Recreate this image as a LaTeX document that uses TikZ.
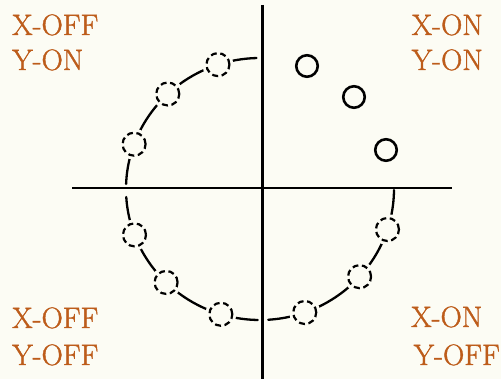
\documentclass[tikz,border=0pt]{standalone}
\usepackage{fontspec}
\newfontfamily\labfont[FakeBold=1.3]{Latin Modern Roman}
\definecolor{bg}{HTML}{FCFCF4}
\definecolor{lbl}{HTML}{BD5C1A}
\begin{document}
\begin{tikzpicture}[x=1pt,y=-1pt,
  axis/.style={line width=2.5pt, black},
  arcline/.style={line width=2.3pt, black, line cap=round},
  offdot/.style={circle, draw=black, fill=bg, line width=2.2pt, minimum size=23pt, inner sep=0pt,
    dash pattern=on 6pt off 3.6pt,
    preaction={draw=bg, line width=8pt, solid}},
  ondot/.style={circle, draw=black, fill=bg, line width=2.6pt, minimum size=21.5pt, inner sep=0pt},
  lab/.style={text=lbl, font=\labfont\fontsize{29.5}{31}\selectfont, inner sep=0pt}]
\useasboundingbox (0,0) rectangle (501,379);
\fill[bg] (0,0) rectangle (501,379);
% the path around three quadrants
\draw[arcline] plot[domain=91.5:177.8, samples=60] ({260+134*cos(\x)},{189-131*sin(\x)});
\draw[arcline] plot[domain=183.5:269, samples=60] ({260+134*cos(\x)},{189-131*sin(\x)});
\draw[arcline] plot[domain=273.5:359.5, samples=60] ({260+134*cos(\x)},{189-131*sin(\x)});
% axes
\coordinate (vt) at (262.5,5);
\coordinate (vb) at (262.5,379);
\coordinate (hl) at (72,188);
\coordinate (hr) at (452,188);
\draw[axis] (vt) -- (vb);
\draw[axis] (hl) -- (hr);
% dashed circles
\foreach \a [count=\i] in {108.3,133.5,160,200.5,225.5,253,289.5,318,342}
  \node[offdot] (off\i) at ({260+134*cos(\a)},{189-131*sin(\a)}) {};
% solid circles
\node[ondot] (on1) at (307,66) {};
\node[ondot] (on2) at (354,97) {};
\node[ondot] (on3) at (386,150) {};
% labels
\node[lab, anchor=base west] (tl1) at (12,35) {X-OFF};
\node[lab, anchor=base west] (tl2) at (12,70) {Y-ON};
\node[lab, anchor=base east] (tr1) at (483,35) {X-ON};
\node[lab, anchor=base east] (tr2) at (483,70) {Y-ON};
\node[lab, anchor=base west] (bl1) at (12,328) {X-OFF};
\node[lab, anchor=base west] (bl2) at (12,365) {Y-OFF};
\node[lab, anchor=base west] (br1) at (411,327) {X-ON};
\node[lab, anchor=base east] (br2) at (500,365) {Y-OFF};
\end{tikzpicture}
\end{document}
